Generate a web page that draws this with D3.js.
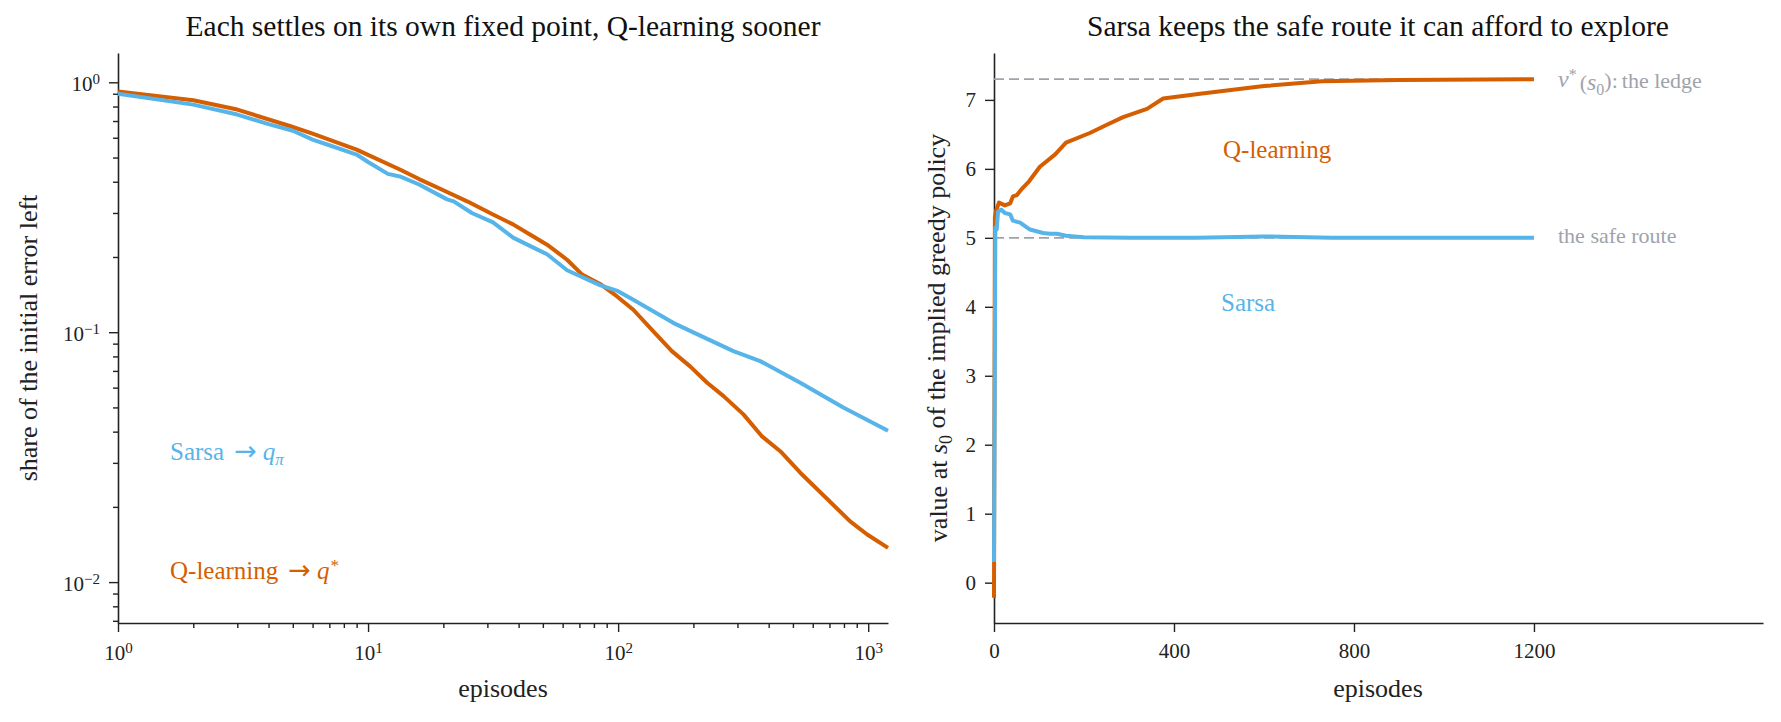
<!DOCTYPE html>
<html>
<head>
<meta charset="utf-8">
<script src="https://cdn.jsdelivr.net/npm/d3@7"></script>
<style>
body { margin: 0; background: #fff; }
svg { display: block; font-family: "Liberation Serif", "DejaVu Serif", serif; }
</style>
</head>
<body>
<svg id="chart" width="1781" height="722"></svg>
<script>
// left panel: share of the initial error left (log-log)
var sarsaErrEpisodes = [1, 2, 3, 4, 5, 6, 7, 9, 10, 12, 13.4, 16, 20.7, 22, 26, 31.6, 38, 45, 52, 62.5, 85, 100, 115, 166, 227, 289, 370, 535, 795, 1200];
var sarsaErr = [0.90, 0.814, 0.743, 0.68, 0.64, 0.59, 0.56, 0.514, 0.48, 0.43, 0.42, 0.39, 0.34, 0.334, 0.30, 0.275, 0.239, 0.22, 0.205, 0.177, 0.154, 0.146, 0.135, 0.109, 0.094, 0.084, 0.0766, 0.0628, 0.050, 0.0403];
var qErrEpisodes = [1, 2, 3, 4.9, 6, 9, 13.4, 16, 20, 24.9, 31.6, 38, 44.4, 52, 62.5, 71.8, 84.7, 99, 115, 138, 164, 194, 227, 264, 317, 375, 445, 535, 847, 991, 1200];
var qErr = [0.918, 0.847, 0.778, 0.667, 0.623, 0.538, 0.448, 0.41, 0.37, 0.334, 0.296, 0.27, 0.246, 0.224, 0.195, 0.170, 0.156, 0.139, 0.123, 0.101, 0.084, 0.073, 0.0628, 0.0555, 0.0469, 0.0384, 0.0334, 0.0274, 0.0175, 0.0155, 0.0137];

// right panel: value at s0 of the implied greedy policy
var qValEpisodes = [0, 2, 5, 11, 24, 36, 42, 51, 62, 78, 102, 136, 160, 213, 251, 287, 340, 376, 458, 600, 729, 900, 1200];
var qVal = [-0.22, 5.3, 5.4, 5.51, 5.47, 5.5, 5.6, 5.62, 5.71, 5.82, 6.03, 6.21, 6.38, 6.52, 6.64, 6.75, 6.87, 7.02, 7.09, 7.2, 7.27, 7.29, 7.3];
var sarsaValEpisodes = [0, 3, 6, 9, 16, 24, 36, 42, 58, 80, 109, 125, 140, 160, 200, 300, 450, 600, 750, 1200];
var sarsaVal = [0.3, 5.15, 5.12, 5.38, 5.41, 5.36, 5.34, 5.25, 5.22, 5.12, 5.07, 5.06, 5.06, 5.03, 5.01, 5.0, 5.0, 5.02, 5.0, 5.0];
var ledgeValue = 7.3;
var safeValue = 5.0;

var logXTicks = [1, 10, 100, 1000];
var logXTickExp = ['0', '1', '2', '3'];
var logYTicks = [1, 0.1, 0.01];
var logYTickExp = ['0', '\u22121', '\u22122'];
var linXTicks = [0, 400, 800, 1200];
var linYTicks = [0, 1, 2, 3, 4, 5, 6, 7];

var ORANGE = '#D55E00', BLUE = '#56B4E9', GREY = '#9ea3ab', INK = '#222';
var ARROW_FONT = '"DejaVu Sans", sans-serif';

var svg = d3.select('#chart');
svg.append('rect').attr('width', 1781).attr('height', 722).attr('fill', '#fff');

function zip(xs, ys) {
    return xs.map(function (d, i) { return [d, ys[i]]; });
}

function minorsLog(lo, hi) {
    var out = [];
    for (var e = -4; e <= 4; e++) {
        for (var k = 2; k <= 9; k++) {
            var v = k * Math.pow(10, e);
            if (v >= lo && v <= hi) out.push(v);
        }
    }
    return out;
}

function style_axis(g) {
    // d3 puts sans-serif on the axis group, drop it so the serif from css applies
    g.attr('font-family', null).attr('font-size', null);
    g.select('.domain').attr('stroke', INK).attr('stroke-width', 1.6);
    g.selectAll('.tick line').attr('stroke', INK).attr('stroke-width', 1.4);
    g.selectAll('.tick text').attr('fill', INK).style('font-size', '21px');
}

// power-of-ten label: "10" with a raised exponent
function pow_label(text, exp) {
    text.text('');
    text.append('tspan').text('10');
    text.append('tspan').attr('dy', '-0.45em').style('font-size', '15px').text(exp);
}

// "name -> q" style annotation, arrow drawn from a font that has a long one
function arrow_label(g, x, y, color, name) {
    var t = g.append('text').attr('x', x).attr('y', y).attr('fill', color).style('font-size', '25px');
    t.append('tspan').text(name);
    t.append('tspan').attr('dx', 10).style('font-family', ARROW_FONT).style('font-size', '27px').text('\u2192');
    t.append('tspan').attr('dx', 6).style('font-style', 'italic').text('q');
    return t;
}

function add_title(x, txt) {
    svg.append('text').attr('x', x).attr('y', 36).attr('text-anchor', 'middle')
        .attr('fill', '#111').style('font-size', '29.5px').text(txt);
}

// ---------- left panel ----------
var xL = d3.scaleLog().domain([1, 1200]).range([118, 888]);
var yL = d3.scaleLog().domain([0.00686, 1.31]).range([623, 53]);

var gl = svg.append('g');

gl.append('g').attr('transform', 'translate(0,623)')
    .call(d3.axisBottom(xL).tickValues(minorsLog(1, 1200)).tickSize(5).tickFormat('').tickSizeOuter(0))
    .call(style_axis).select('.domain').remove();
gl.append('g').attr('transform', 'translate(118,0)')
    .call(d3.axisLeft(yL).tickValues(minorsLog(0.00686, 1.31)).tickSize(5).tickFormat('').tickSizeOuter(0))
    .call(style_axis).select('.domain').remove();

var gxL = gl.append('g').attr('transform', 'translate(0,623)')
    .call(d3.axisBottom(xL).tickValues(logXTicks).tickSize(9).tickPadding(13).tickSizeOuter(0))
    .call(style_axis);
gxL.selectAll('.tick text').each(function (d, i) { pow_label(d3.select(this), logXTickExp[i]); });

var gyL = gl.append('g').attr('transform', 'translate(118,0)')
    .call(d3.axisLeft(yL).tickValues(logYTicks).tickSize(9).tickPadding(9).tickSizeOuter(0))
    .call(style_axis);
gyL.selectAll('.tick text').attr('dy', '0.4em').each(function (d, i) { pow_label(d3.select(this), logYTickExp[i]); });

var lineL = d3.line().x(function (d) { return xL(d[0]); }).y(function (d) { return yL(d[1]); });
gl.append('path').datum(zip(qErrEpisodes, qErr)).attr('d', lineL)
    .attr('fill', 'none').attr('stroke', ORANGE).attr('stroke-width', 4).attr('stroke-linejoin', 'round');
gl.append('path').datum(zip(sarsaErrEpisodes, sarsaErr)).attr('d', lineL)
    .attr('fill', 'none').attr('stroke', BLUE).attr('stroke-width', 4).attr('stroke-linejoin', 'round');

arrow_label(gl, 170, 460, BLUE, 'Sarsa')
    .append('tspan').attr('dy', '0.3em').style('font-size', '17px').style('font-style', 'italic').text('\u03c0');
arrow_label(gl, 170, 579, ORANGE, 'Q-learning')
    .append('tspan').attr('dy', '-0.5em').attr('dx', 1).style('font-size', '17px').text('*');

gl.append('text').attr('x', 503).attr('y', 697).attr('text-anchor', 'middle')
    .attr('fill', INK).style('font-size', '26px').text('episodes');
gl.append('text').attr('transform', 'translate(37,338) rotate(-90)').attr('text-anchor', 'middle')
    .attr('fill', INK).style('font-size', '26px').text('share of the initial error left');
add_title(503, 'Each settles on its own fixed point, Q-learning sooner');

// ---------- right panel ----------
var xR = d3.scaleLinear().domain([0, 1709]).range([994, 1763]);
var yR = d3.scaleLinear().domain([-0.585, 7.68]).range([623, 53]);

var gr = svg.append('g');
gr.append('g').attr('transform', 'translate(0,623)')
    .call(d3.axisBottom(xR).tickValues(linXTicks).tickFormat(d3.format('d')).tickSize(9).tickPadding(11).tickSizeOuter(0))
    .call(style_axis);
gr.append('g').attr('transform', 'translate(994,0)')
    .call(d3.axisLeft(yR).tickValues(linYTicks).tickFormat(d3.format('d')).tickSize(9).tickPadding(9).tickSizeOuter(0))
    .call(style_axis);

[ledgeValue, safeValue].forEach(function (v) {
    gr.append('line').attr('x1', xR(0)).attr('x2', xR(1200)).attr('y1', yR(v)).attr('y2', yR(v))
        .attr('stroke', GREY).attr('stroke-width', 1.8).attr('stroke-dasharray', '10,5');
});

var lineR = d3.line().x(function (d) { return xR(d[0]); }).y(function (d) { return yR(d[1]); });
gr.append('path').datum(zip(qValEpisodes, qVal)).attr('d', lineR)
    .attr('fill', 'none').attr('stroke', ORANGE).attr('stroke-width', 4).attr('stroke-linejoin', 'round');
gr.append('path').datum(zip(sarsaValEpisodes, sarsaVal)).attr('d', lineR)
    .attr('fill', 'none').attr('stroke', BLUE).attr('stroke-width', 4).attr('stroke-linejoin', 'round');

gr.append('text').attr('x', 1223).attr('y', 158).attr('fill', ORANGE).style('font-size', '25px').text('Q-learning');
gr.append('text').attr('x', 1221).attr('y', 311).attr('fill', BLUE).style('font-size', '25px').text('Sarsa');

var tv = gr.append('text').attr('x', 1558).attr('y', 87).attr('fill', GREY).style('font-size', '22px');
tv.append('tspan').style('font-style', 'italic').style('font-size', '24px').text('v');
tv.append('tspan').attr('dy', '-0.45em').style('font-size', '16px').text('*');
tv.append('tspan').attr('dy', '0.45em').attr('dx', 3).text('(');
tv.append('tspan').style('font-style', 'italic').style('font-size', '24px').text('s');
tv.append('tspan').attr('dy', '0.3em').style('font-size', '16px').text('0');
tv.append('tspan').attr('dy', '-0.3em').text('):');
tv.append('tspan').attr('dx', 4).text('the ledge');
gr.append('text').attr('x', 1558).attr('y', 243).attr('fill', GREY).style('font-size', '22px').text('the safe route');

gr.append('text').attr('x', 1378).attr('y', 697).attr('text-anchor', 'middle')
    .attr('fill', INK).style('font-size', '26px').text('episodes');
var ty = gr.append('text').attr('transform', 'translate(947,338) rotate(-90)').attr('text-anchor', 'middle')
    .attr('fill', INK).style('font-size', '26px');
ty.append('tspan').text('value at ');
ty.append('tspan').style('font-style', 'italic').text('s');
ty.append('tspan').attr('dy', '0.3em').style('font-size', '18px').text('0');
ty.append('tspan').attr('dy', '-0.3em').text(' of the implied greedy policy');
add_title(1378, 'Sarsa keeps the safe route it can afford to explore');
</script>
</body>
</html>
